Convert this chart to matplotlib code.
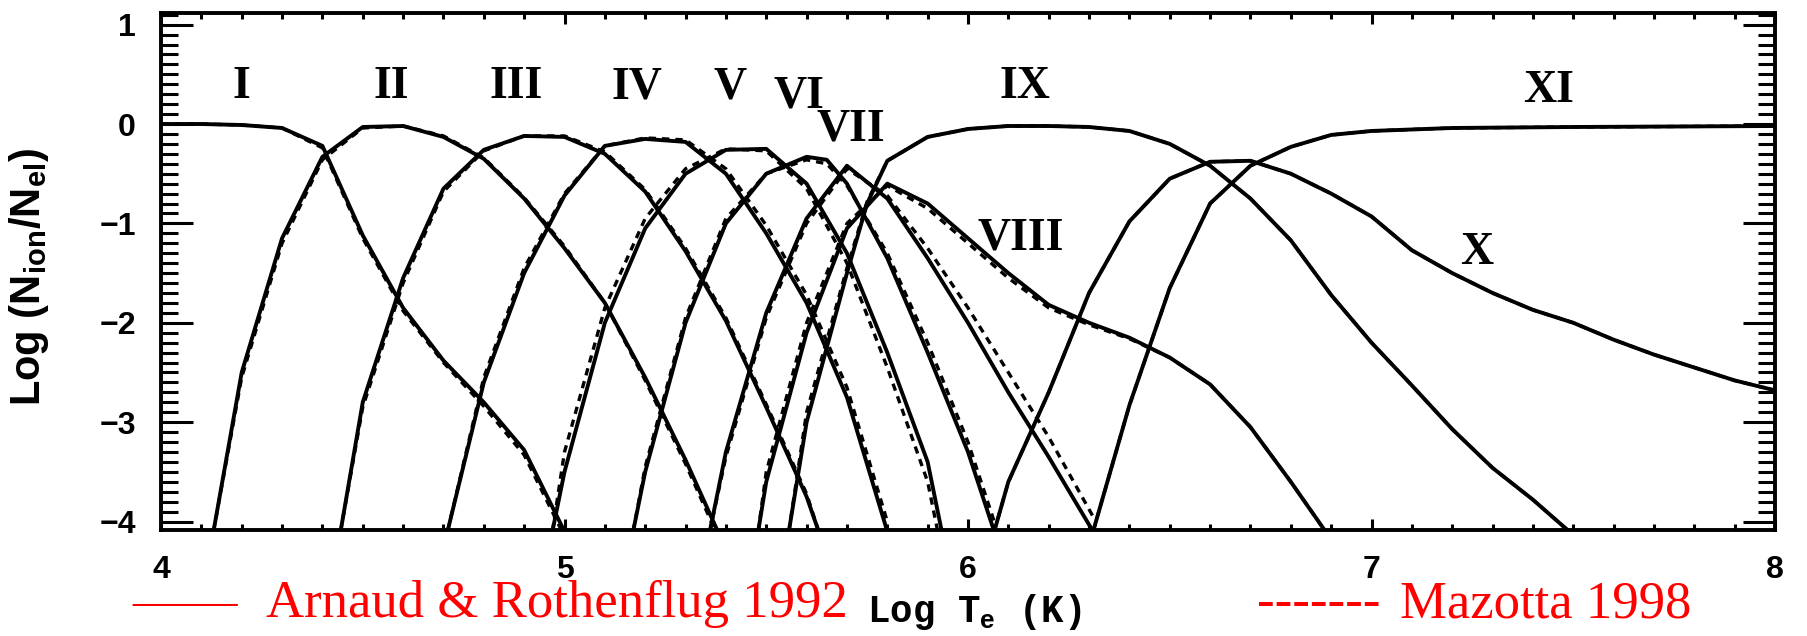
import matplotlib
matplotlib.use("Agg")
import matplotlib.pyplot as plt
from matplotlib.ticker import MultipleLocator, FixedLocator

plt.rcParams["mathtext.fontset"] = "custom"
plt.rcParams["mathtext.rm"] = "Liberation Sans:bold"
plt.rcParams["mathtext.bf"] = "Liberation Sans:bold"
plt.rcParams["mathtext.it"] = "Liberation Sans:bold"

# Neon ionisation fractions, log(N_ion/N_el) against log T_e
# Arnaud & Rothenflug (solid) and Mazzotta et al. (dashed)
T_I = [4.0, 4.1, 4.2, 4.3, 4.4, 4.5, 4.6, 4.7, 4.8, 4.9, 5.0]
AR_I = [0.0, 0.0, -0.01, -0.04, -0.22, -1.12, -1.85, -2.38, -2.80, -3.28, -4.10]
MZ_I = [0.0, 0.0, -0.01, -0.04, -0.24, -1.15, -1.88, -2.40, -2.84, -3.33, -4.15]

T_II = [4.13, 4.2, 4.3, 4.4, 4.5, 4.6, 4.7, 4.8, 4.9, 5.0, 5.1, 5.2, 5.3, 5.38]
AR_II = [-4.1, -2.5, -1.15, -0.33, -0.03, -0.02, -0.13, -0.35, -0.75, -1.25, -1.8, -2.55, -3.38, -4.1]
MZ_II = [-4.1, -2.55, -1.2, -0.36, -0.04, -0.02, -0.12, -0.34, -0.74, -1.23, -1.8, -2.58, -3.42, -4.15]

T_III = [4.445, 4.5, 4.6, 4.7, 4.8, 4.9, 5.0, 5.1, 5.2, 5.3, 5.4, 5.5, 5.6, 5.63]
AR_III = [-4.1, -2.8, -1.55, -0.65, -0.26, -0.12, -0.13, -0.3, -0.68, -1.28, -1.98, -2.85, -3.75, -4.1]
MZ_III = [-4.1, -2.85, -1.6, -0.68, -0.27, -0.12, -0.12, -0.28, -0.66, -1.25, -1.95, -2.82, -3.72, -4.1]

T_IV = [4.71, 4.8, 4.9, 5.0, 5.1, 5.2, 5.3, 5.4, 5.5, 5.6, 5.7, 5.8]
AR_IV = [-4.1, -2.6, -1.5, -0.72, -0.22, -0.15, -0.18, -0.5, -1.1, -1.8, -2.75, -4.1]
MZ_IV = [-4.1, -2.55, -1.45, -0.7, -0.22, -0.14, -0.16, -0.45, -1.02, -1.72, -2.65, -4.0]

T_V = [4.97, 5.0, 5.1, 5.2, 5.3, 5.4, 5.5, 5.6, 5.7, 5.8, 5.9, 5.935]
AR_V = [-4.1, -3.5, -2.0, -1.05, -0.5, -0.26, -0.25, -0.6, -1.3, -2.3, -3.4, -4.1]
MZ_V = [-4.1, -3.3, -1.85, -0.95, -0.45, -0.25, -0.27, -0.65, -1.4, -2.45, -3.6, -4.3]

T_VI = [5.17, 5.2, 5.3, 5.4, 5.5, 5.6, 5.65, 5.7, 5.8, 5.9, 6.0, 6.065]
AR_VI = [-4.1, -3.5, -2.0, -1.0, -0.5, -0.33, -0.36, -0.6, -1.35, -2.3, -3.3, -4.1]
MZ_VI = [-4.1, -3.45, -1.95, -0.95, -0.5, -0.36, -0.4, -0.62, -1.3, -2.2, -3.2, -4.0]

T_VII = [5.36, 5.4, 5.5, 5.6, 5.7, 5.8, 5.9, 6.0, 6.1, 6.2, 6.31]
AR_VII = [-4.1, -3.3, -1.9, -0.95, -0.42, -0.75, -1.35, -2.0, -2.7, -3.35, -4.1]
MZ_VII = [-4.1, -3.35, -1.95, -1.0, -0.45, -0.72, -1.25, -1.85, -2.5, -3.15, -3.95]

T_VIII = [5.48, 5.5, 5.6, 5.7, 5.8, 5.9, 6.0, 6.1, 6.2, 6.3, 6.4, 6.5, 6.6, 6.7, 6.8, 6.886]
AR_VIII = [-4.1, -3.6, -2.1, -1.05, -0.6, -0.8, -1.15, -1.5, -1.82, -2.0, -2.15, -2.35, -2.62, -3.05, -3.6, -4.1]
MZ_VIII = [-4.1, -3.5, -2.0, -1.0, -0.62, -0.85, -1.2, -1.55, -1.85, -2.02, -2.16, -2.35, -2.62, -3.05, -3.6, -4.1]

T_IX = [5.556, 5.6, 5.7, 5.75, 5.8, 5.9, 6.0, 6.1, 6.2, 6.3, 6.4, 6.5, 6.6, 6.7, 6.8, 6.9,
        7.0, 7.1, 7.2, 7.3, 7.4, 7.49]
AR_IX = [-4.1, -3.0, -1.5, -0.8, -0.37, -0.13, -0.05, -0.02, -0.02, -0.03, -0.07, -0.2, -0.42,
         -0.75, -1.17, -1.72, -2.2, -2.63, -3.07, -3.46, -3.78, -4.1]
MZ_IX = [-4.1, -2.9, -1.45, -0.78, -0.37, -0.13, -0.05, -0.02, -0.02, -0.03, -0.07, -0.2, -0.42,
         -0.75, -1.17, -1.72, -2.2, -2.63, -3.07, -3.46, -3.78, -4.1]

T_X = [6.065, 6.1, 6.2, 6.3, 6.4, 6.5, 6.6, 6.7, 6.8, 6.9, 7.0, 7.1, 7.2, 7.3, 7.4, 7.5,
       7.6, 7.7, 7.8, 7.9, 8.0]
AR_X = [-4.1, -3.6, -2.7, -1.7, -0.98, -0.55, -0.38, -0.37, -0.5, -0.7, -0.93, -1.27, -1.5,
        -1.7, -1.87, -2.0, -2.17, -2.32, -2.45, -2.58, -2.68]
MZ_X = [-4.1, -3.6, -2.7, -1.7, -0.98, -0.55, -0.38, -0.37, -0.5, -0.7, -0.93, -1.27, -1.5,
        -1.7, -1.87, -2.0, -2.17, -2.32, -2.45, -2.58, -2.68]

T_XI = [6.31, 6.4, 6.5, 6.6, 6.7, 6.8, 6.9, 7.0, 7.2, 7.5, 8.0]
AR_XI = [-4.1, -2.83, -1.65, -0.8, -0.42, -0.23, -0.11, -0.07, -0.04, -0.03, -0.02]
MZ_XI = [-4.1, -2.83, -1.65, -0.8, -0.42, -0.23, -0.11, -0.07, -0.04, -0.03, -0.02]

# Ion stage labels and their positions (log T, log fraction)
ION_NAMES = ["I", "II", "III", "IV", "V", "VI", "VII", "VIII", "IX", "X", "XI"]
LABEL_T = [4.20, 4.57, 4.88, 5.18, 5.41, 5.58, 5.71, 6.13, 6.14, 7.26, 7.44]
LABEL_Y = [0.37, 0.37, 0.37, 0.37, 0.37, 0.28, -0.06, -1.15, 0.37, -1.30, 0.33]

X_TICKS = [4, 5, 6, 7, 8]
Y_TICKS = [-4, -3, -2, -1, 0, 1]

temps = [T_I, T_II, T_III, T_IV, T_V, T_VI, T_VII, T_VIII, T_IX, T_X, T_XI]
ar_vals = [AR_I, AR_II, AR_III, AR_IV, AR_V, AR_VI, AR_VII, AR_VIII, AR_IX, AR_X, AR_XI]
mz_vals = [MZ_I, MZ_II, MZ_III, MZ_IV, MZ_V, MZ_VI, MZ_VII, MZ_VIII, MZ_IX, MZ_X, MZ_XI]

W, H = 1808, 636
fig = plt.figure(figsize=(W / 100, H / 100), dpi=100)
ax = fig.add_axes([161 / W, 106 / H, 1614 / W, 517 / H])

for t, m in zip(temps, mz_vals):
    ax.plot(t, m, color="black", lw=2.4, ls=(0, (2.2, 1.8)), solid_capstyle="butt")
for t, a in zip(temps, ar_vals):
    ax.plot(t, a, color="black", lw=2.8, solid_joinstyle="round")

ax.set_xlim(4, 8)
ax.set_ylim(-4.085, 1.117)

for name, tx, ty in zip(ION_NAMES, LABEL_T, LABEL_Y):
    ax.text(tx, ty, name, ha="center", va="center", fontsize=33,
            family="Liberation Serif", fontweight="bold")

ax.xaxis.set_major_locator(FixedLocator(X_TICKS))
ax.xaxis.set_minor_locator(MultipleLocator(0.1))
ax.yaxis.set_major_locator(FixedLocator(Y_TICKS))
ax.yaxis.set_minor_locator(MultipleLocator(0.1))

ax.tick_params(which="both", direction="in", top=True, right=True, width=2.2)
ax.tick_params(axis="x", which="major", length=8, pad=18)
ax.tick_params(axis="x", which="minor", length=4)
ax.tick_params(axis="y", which="major", length=23, pad=18)
ax.tick_params(axis="y", which="minor", length=12)
for lab in ax.get_xticklabels() + ax.get_yticklabels():
    lab.set_family("Liberation Sans")
    lab.set_fontweight("heavy")
    lab.set_fontsize(23)
for sp in ax.spines.values():
    sp.set_linewidth(2.8)

ax.set_ylabel(r"Log (N$_{\mathbf{ion}}$/N$_{\mathbf{el}}$)", family="Liberation Sans",
              fontweight="bold", fontsize=30)
ax.yaxis.set_label_coords(-0.068, 0.49)

ax.set_xlabel(r"Log T$_{\mathbf{e}}$ (K)", family="Liberation Mono", fontweight="bold",
              fontsize=27)
ax.xaxis.set_label_coords(0.504, -0.159)
ax.xaxis.label.set_va("center")

# Legend written as red text beneath the axis
base = (H - 617) / H
fig.text(132 / W, base, "\u2014\u2014", color="red", family="Liberation Serif",
         fontsize=38, va="baseline")
fig.text(266 / W, base, "Arnaud & Rothenflug 1992", color="red", family="Liberation Serif",
         fontsize=38, va="baseline")
fig.text(1257 / W, base, "-------", color="red", family="Liberation Serif",
         fontsize=38, va="baseline")
fig.text(1400 / W, base, "Mazotta 1998", color="red", family="Liberation Serif",
         fontsize=38, va="baseline")

fig.savefig("out.png", dpi=100, facecolor="white")
